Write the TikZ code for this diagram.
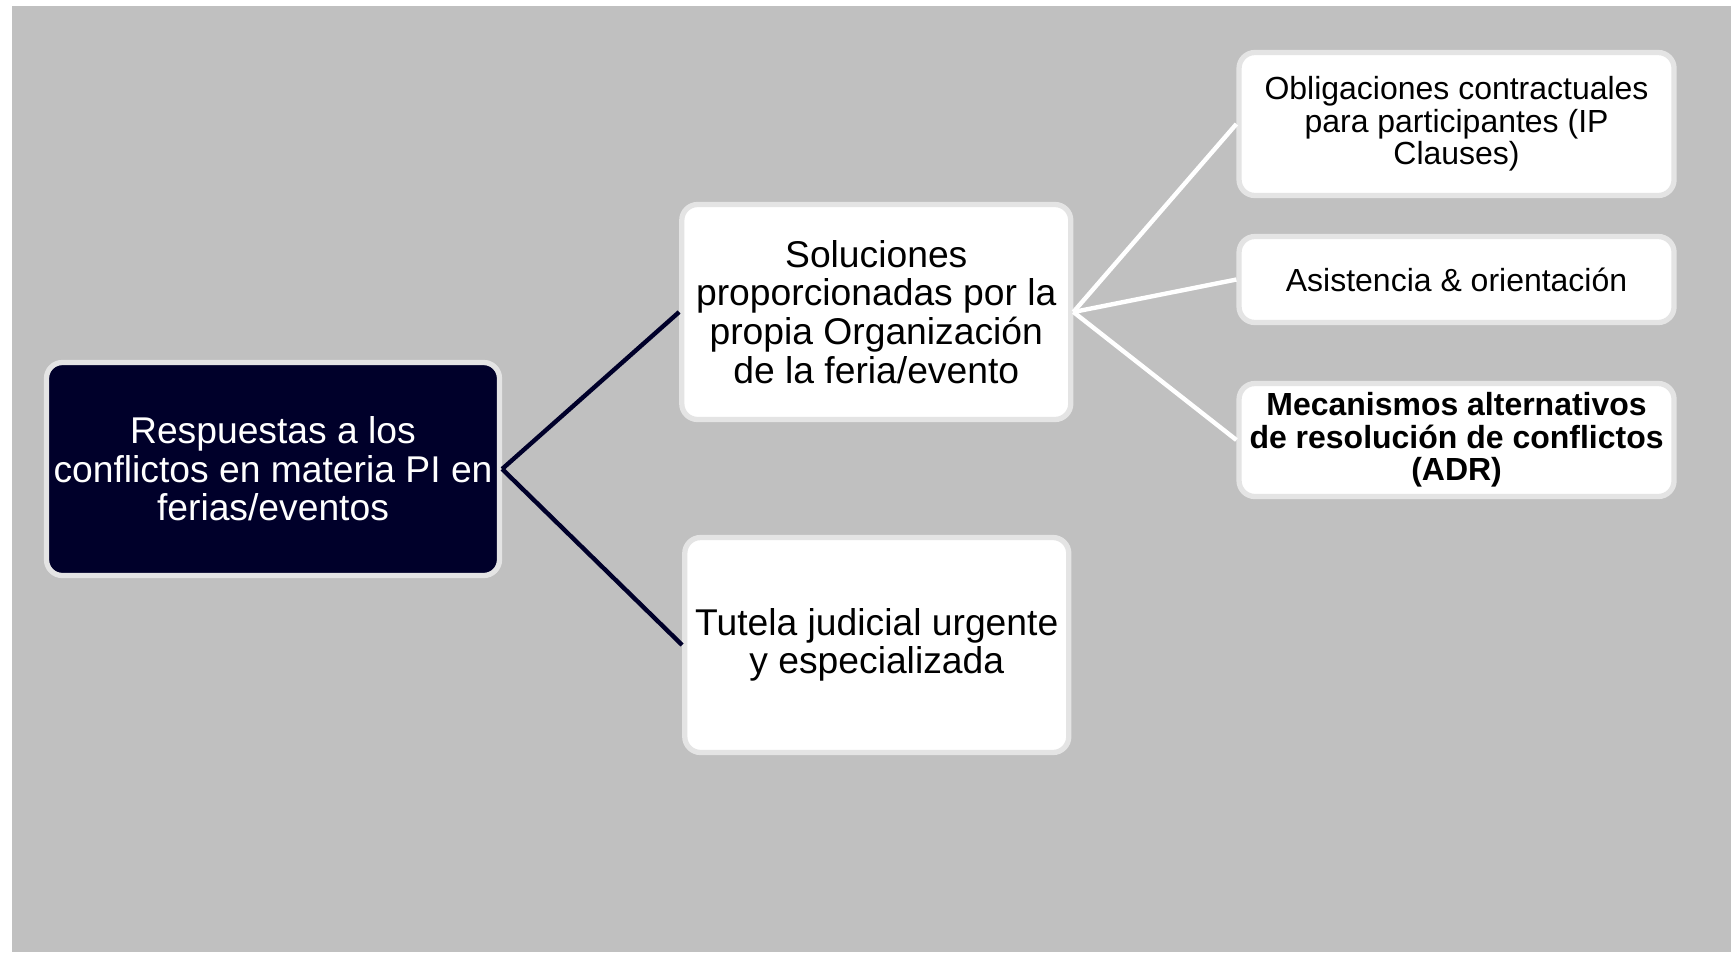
\documentclass[tikz,border=0pt]{standalone}
\usepackage{fontspec}
\setmainfont{Liberation Sans}
\usetikzlibrary{positioning}

\definecolor{bggray}{RGB}{192,192,192}
\definecolor{navy}{RGB}{0,0,42}
\definecolor{rimgray}{RGB}{228,228,228}

\tikzset{
  box/.style={rectangle, rounded corners=9pt, draw=rimgray, line width=3pt, align=center, inner sep=2pt},
  rootbox/.style={box, fill=navy, text=white, minimum width=9.06cm, minimum height=4.26cm, font=\fontsize{21.2}{22}\selectfont},
  midbox/.style={box, fill=white, text=black, minimum height=4.30cm, font=\fontsize{21.2}{22}\selectfont},
  leafbox/.style={box, fill=white, text=black, minimum width=8.70cm, font=\fontsize{18.2}{18.6}\selectfont},
  darklink/.style={draw=navy, line width=2.5pt},
  lightlink/.style={draw=white, line width=2.5pt}
}

\begin{document}
\begin{tikzpicture}
\useasboundingbox (0,0) rectangle (34.62,-19.04);
\fill[bggray] (0.24,-0.12) rectangle (34.62,-19.04);

% Root
\node[rootbox] (respuestas) at (5.46,-9.38) {Respuestas a los\\conflictos en materia PI en\\ferias/eventos};

% Second level
\node[midbox, minimum width=7.78cm, right=3.54cm of respuestas, yshift=3.14cm] (soluciones) {Soluciones\\proporcionadas por la\\propia Organizaci\'on\\de la feria/evento};
\node[midbox, minimum width=7.68cm, right=3.60cm of respuestas, yshift=-3.52cm] (tutela) {Tutela judicial urgente\\y especializada};

% Third level
\node[leafbox, minimum height=2.86cm, right=3.26cm of soluciones, yshift=3.76cm] (obligaciones) {Obligaciones contractuales\\para participantes (IP\\Clauses)};
\node[leafbox, minimum height=1.72cm, right=3.26cm of soluciones, yshift=0.65cm] (asistencia) {Asistencia \& orientaci\'on};
\node[leafbox, minimum height=2.26cm, right=3.26cm of soluciones, yshift=-2.56cm] (mecanismos) {\textbf{Mecanismos alternativos}\\\textbf{de resoluci\'on de conflictos}\\\textbf{(ADR)}};

% Links from root
\draw[darklink] (respuestas.east) -- (soluciones.west);
\draw[darklink] (respuestas.east) -- (tutela.west);

% Links from soluciones
\draw[lightlink] (soluciones.east) -- (obligaciones.west);
\draw[lightlink] (soluciones.east) -- (asistencia.west);
\draw[lightlink] (soluciones.east) -- (mecanismos.west);
\end{tikzpicture}
\end{document}
